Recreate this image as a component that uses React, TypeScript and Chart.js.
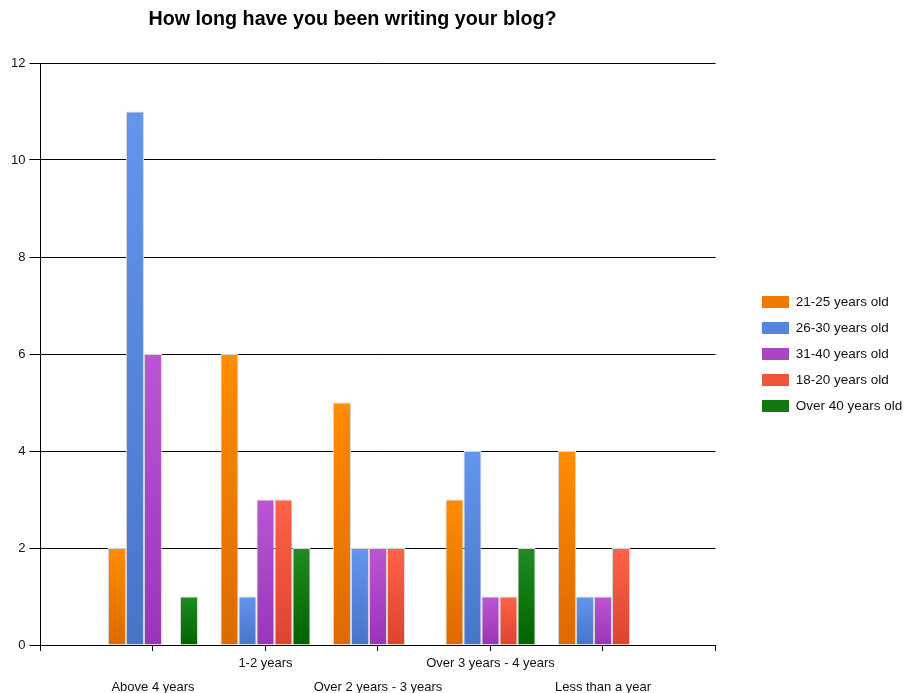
import React, { useEffect, useRef } from "react";
import { Chart, registerables } from "chart.js";

Chart.register(...registerables);

const TITLE = "How long have you been writing your blog?";
const categories = [
  "Above 4 years",
  "1-2 years",
  "Over 2 years - 3 years",
  "Over 3 years - 4 years",
  "Less than a year",
];
const seriesNames = [
  "21-25 years old",
  "26-30 years old",
  "31-40 years old",
  "18-20 years old",
  "Over 40 years old",
];
const age2125 = [2, 6, 5, 3, 4];
const age2630 = [11, 1, 2, 4, 1];
const age3140 = [6, 3, 2, 1, 1];
const age1820 = [0, 3, 2, 1, 2];
const ageOver40 = [1, 2, 0, 2, 0];
const yTicks = [0, 2, 4, 6, 8, 10, 12];

const colorsTop = ["#FF8C00", "#6495ED", "#BA55D3", "#FF6347", "#228B22"];
const colorsBottom = ["#DC6A00", "#4675C8", "#9A35B8", "#DC4430", "#006400"];
const colorsMid = ["#F07A00", "#5585DD", "#AA45C6", "#EE553C", "#127812"];

const FONT = '"Liberation Sans", Arial, sans-serif';

const titlePlugin = {
  id: "customTitle",
  afterInit(chart: any) {
    const lg = chart.legend;
    if (lg && !lg.__widened) {
      const orig = lg.fit.bind(lg);
      lg.fit = function () {
        orig();
        this.width += 5;
      };
      lg.__widened = true;
    }
  },
  afterDraw(chart: any) {
    const c = chart.ctx;
    c.save();
    c.font = `bold 19.7px ${FONT}`;
    c.fillStyle = "#000";
    c.textAlign = "center";
    c.textBaseline = "middle";
    c.fillText(TITLE, chart.width * 0.39, 20);
    c.restore();
  },
};

function gradientFor(i: number) {
  return (ctx: any) => {
    const chart = ctx.chart;
    if (ctx.type !== "data" || !chart.chartArea) return colorsMid[i];
    const v = ctx.raw;
    if (v == null || v === 0) return colorsMid[i];
    const y = chart.scales.y;
    const top = y.getPixelForValue(v);
    const bot = y.getPixelForValue(0);
    if (!isFinite(top) || !isFinite(bot) || top === bot) return colorsMid[i];
    const g = chart.ctx.createLinearGradient(0, top, 0, bot);
    g.addColorStop(0, colorsTop[i]);
    g.addColorStop(1, colorsBottom[i]);
    return g;
  };
}

export default function App() {
  const ref = useRef<HTMLCanvasElement | null>(null);
  useEffect(() => {
    if (!ref.current) return;
    const labels = ["", ...categories, ""];
    const all = [age2125, age2630, age3140, age1820, ageOver40];
    const datasets = all.map((arr, i) => ({
      label: seriesNames[i],
      data: [null, ...arr, null],
      backgroundColor: gradientFor(i),
      borderColor: "#D6D6D6",
      borderWidth: (ctx: any) => (ctx.type === "data" && !ctx.raw ? 0 : 1),
      categoryPercentage: 0.8,
      barPercentage: 1.0,
    }));
    const chart = new Chart(ref.current, {
      type: "bar",
      data: { labels, datasets },
      plugins: [titlePlugin],
      options: {
        animation: false,
        responsive: true,
        maintainAspectRatio: false,
        layout: { padding: { top: 63, left: 7, right: 0, bottom: 0 } },
        plugins: {
          title: { display: false },
          tooltip: { enabled: false },
          legend: {
            position: "right",
            fullSize: false,
            labels: {
              boxWidth: 27,
              boxHeight: 12,
              padding: 12.5,
              color: "#111",
              font: { family: FONT, size: 13.5 },
            },
          },
        },
        scales: {
          x: {
            offset: false,
            afterFit: (s: any) => {
              s.height = 48;
            },
            grid: {
              display: true,
              offset: false,
              drawOnChartArea: false,
              drawTicks: true,
              tickLength: 6,
              color: "#000",
            },
            border: { display: true, color: "#000", width: 1 },
            ticks: {
              autoSkip: false,
              maxRotation: 0,
              minRotation: 0,
              padding: 0,
              color: "#111",
              font: { family: FONT, size: 13, lineHeight: 24 / 13 },
              callback: (_v: any, idx: number) => {
                const l = labels[idx];
                if (!l) return "";
                return idx % 2 === 1 ? ["", l] : [l];
              },
            },
          },
          y: {
            min: 0,
            max: 12,
            afterBuildTicks: (scale: any) => {
              scale.ticks = yTicks.map((v) => ({ value: v }));
            },
            grid: {
              color: "#000",
              lineWidth: 1,
              tickLength: 11,
              drawTicks: true,
            },
            border: { display: true, color: "#000", width: 1 },
            ticks: {
              padding: 4,
              color: "#111",
              font: { family: FONT, size: 13 },
            },
          },
          gap: {
            type: "linear",
            position: "right",
            display: true,
            grid: { display: false, drawTicks: false },
            border: { display: false },
            ticks: { display: false },
            afterFit: (s: any) => {
              s.width = 34;
            },
          },
        },
      },
    });
    return () => chart.destroy();
  }, []);
  return (
    <div style={{ position: "absolute", left: 0, top: 0, width: 904, height: 693, background: "#fff" }}>
      <canvas ref={ref} />
    </div>
  );
}
